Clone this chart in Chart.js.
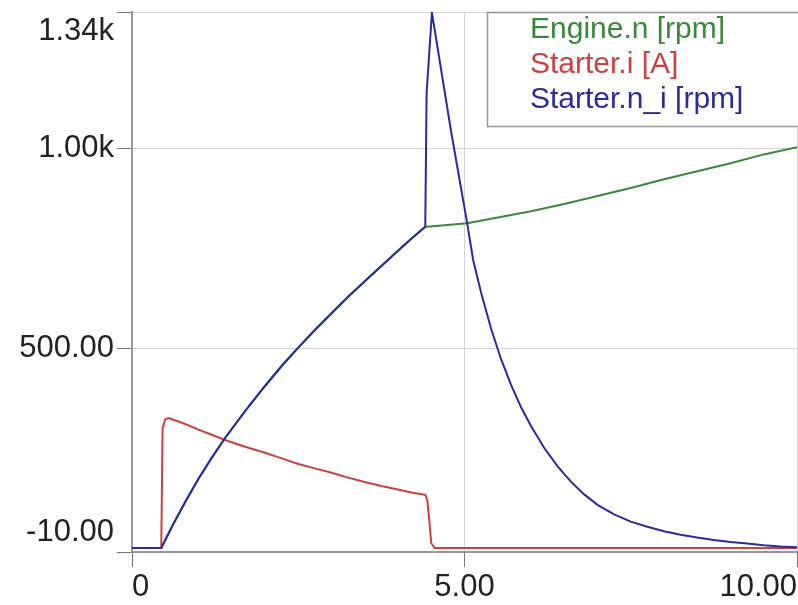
<!DOCTYPE html>
<html>
<head>
<meta charset="utf-8">
<script src="https://cdn.jsdelivr.net/npm/chart.js@4.4.1/dist/chart.umd.min.js"></script>
<style>
  html, body { margin: 0; padding: 0; background: #fff; }
  #chart { display: block; }
</style>
</head>
<body>
<canvas id="chart" width="798" height="605"></canvas>
<script>
// time [s] and values
const engineT = [0, 0.44, 0.6, 0.8, 1.0, 1.2, 1.4, 1.7, 2.0, 2.25, 2.5, 2.75, 3.0, 3.25, 3.5, 3.75, 4.0, 4.2, 4.41,
  4.48, 5.04, 5.5, 6.0, 6.5, 7.0, 7.5, 8.0, 8.5, 9.0, 9.5, 10];
const engineN = [0, 0, 53, 115, 173, 226, 275, 342, 405, 455, 501, 545, 587, 628, 667, 705, 743, 773, 803,
  804, 812, 826, 842, 860, 880, 900, 922, 942, 962, 984, 1002];

const starterIT = [0, 0.44, 0.46, 0.5, 0.55, 0.8, 1.0, 1.2, 1.4, 1.7, 2.0, 2.25, 2.5, 2.75, 3.0, 3.25, 3.5, 3.75, 4.0, 4.2, 4.41,
  4.44, 4.47, 4.5, 4.55, 10];
const starterI = [0, 0, 300, 322, 325, 310, 296, 283, 270, 253, 238, 224, 210, 199, 188, 176, 165, 155, 146, 139, 133,
  120, 70, 12, 0, 0];

const starterNT = [0, 0.44, 0.6, 0.8, 1.0, 1.2, 1.4, 1.7, 2.0, 2.25, 2.5, 2.75, 3.0, 3.25, 3.5, 3.75, 4.0, 4.2, 4.41,
  4.43, 4.51, 4.8, 5.04, 5.13, 5.25, 5.4, 5.55, 5.7, 5.85, 6.0, 6.2, 6.4, 6.6, 6.8, 7.0, 7.25, 7.5, 7.75,
  8.0, 8.25, 8.5, 8.75, 9.0, 9.25, 9.5, 9.75, 10];
const starterN = [0, 0, 53, 115, 173, 226, 275, 342, 405, 455, 501, 545, 587, 628, 667, 705, 743, 773, 803,
  1137, 1338, 1040, 812, 720, 638, 548, 472, 408, 352, 305, 250, 204, 166, 134, 108, 84, 66, 53,
  42, 33, 26, 20, 15, 11, 7, 4, 2];

const seriesNames = ['Engine.n [rpm]', 'Starter.i [A]', 'Starter.n_i [rpm]'];
const seriesColors = ['#388a38', '#cc4040', '#2b2b9e'];

const xTickValues = [0, 5, 10];
const xTickLabels = ['0', '5.00', '10.00'];
const yTickValues = [-10, 500, 1000, 1340];
const yTickLabels = ['-10.00', '500.00', '1.00k', '1.34k'];

const pts = (ts, vs) => ts.map((t, i) => ({ x: t, y: vs[i] }));

const tickFont = { family: '"Liberation Sans", Arial, sans-serif', size: 31, lineHeight: 1.25 };

// legend box in the upper right corner of the plot
const legendBox = {
  id: 'legendBox',
  afterDraw(chart) {
    const { ctx, chartArea } = chart;
    const left = chartArea.right - 310, top = chartArea.top;
    ctx.save();
    ctx.fillStyle = '#fff';
    ctx.fillRect(left, top, 330, 115);
    ctx.strokeStyle = '#999';
    ctx.lineWidth = 1.5;
    ctx.strokeRect(left + 0.5, top + 0.5, 330, 114);
    ctx.font = '30px "Liberation Sans", Arial, sans-serif';
    ctx.textBaseline = 'alphabetic';
    chart.data.datasets.forEach((ds, i) => {
      ctx.fillStyle = ds.borderColor;
      ctx.fillText(ds.label, left + 43, top + 26 + i * 35);
    });
    ctx.restore();
  }
};

new Chart(document.getElementById('chart'), {
  type: 'line',
  data: {
    datasets: [
      { label: seriesNames[0], data: pts(engineT, engineN), borderColor: seriesColors[0], order: 2 },
      { label: seriesNames[1], data: pts(starterIT, starterI), borderColor: seriesColors[1], order: 1 },
      { label: seriesNames[2], data: pts(starterNT, starterN), borderColor: seriesColors[2], order: 0 }
    ]
  },
  options: {
    responsive: false,
    animation: false,
    devicePixelRatio: 1,
    layout: { padding: { top: 12, right: 1, left: 0, bottom: 0 } },
    elements: {
      point: { radius: 0 },
      line: { borderWidth: 2, tension: 0, fill: false }
    },
    plugins: { legend: { display: false }, tooltip: { enabled: false } },
    scales: {
      x: {
        type: 'linear', min: 0, max: 10,
        afterBuildTicks: s => { s.ticks = xTickValues.map(v => ({ value: v })); },
        afterFit: s => { s.height = 53; s.paddingLeft = 0; s.paddingRight = 0; },
        ticks: {
          callback: v => xTickLabels[xTickValues.indexOf(v)],
          align: 'inner', autoSkip: false, maxRotation: 0,
          font: tickFont, color: '#222', padding: 1
        },
        grid: { color: '#d4d4d4', tickColor: '#777', tickLength: 15 },
        border: { color: '#999', width: 2 }
      },
      y: {
        min: -10, max: 1340,
        afterBuildTicks: s => { s.ticks = yTickValues.map(v => ({ value: v })); },
        afterFit: s => { s.width = 132; s.paddingTop = 0; s.paddingBottom = 0; },
        ticks: {
          callback: v => {
            const i = yTickValues.indexOf(v);
            const lab = yTickLabels[i];
            if (i === 0) return [lab, ''];
            if (i === yTickValues.length - 1) return ['', lab];
            return lab;
          },
          autoSkip: false, font: tickFont, color: '#222', padding: 3
        },
        grid: { color: '#d4d4d4', tickColor: '#777', tickLength: 15 },
        border: { color: '#999', width: 2 }
      }
    }
  },
  plugins: [legendBox]
});
</script>
</body>
</html>
